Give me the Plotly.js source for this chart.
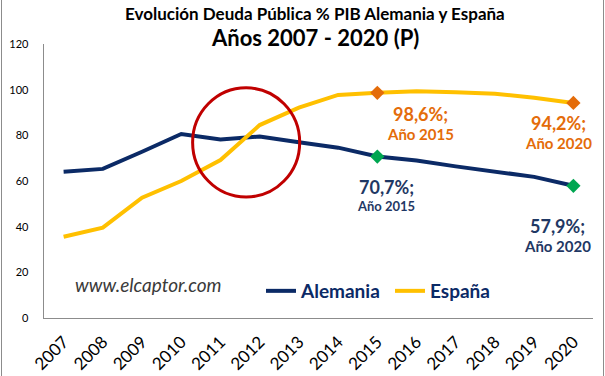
<!DOCTYPE html>
<html>
<head>
<meta charset="utf-8">
<script src="https://cdn.plot.ly/plotly-3.0.1.min.js"></script>
<style>
html,body{margin:0;padding:0;background:#fff;}
#wrap{position:relative;width:605px;height:376px;}
#chart{width:605px;height:376px;}
#frame{position:absolute;left:1px;top:-2px;width:601px;height:380px;border-left:1px solid #8c8c8c;border-right:1px solid #8c8c8c;pointer-events:none;}
</style>
</head>
<body>
<div id="wrap"><div id="chart"></div><div id="frame"></div></div>
<script>
const years = ['2007','2008','2009','2010','2011','2012','2013','2014','2015','2016','2017','2018','2019','2020'];
const alemania = [64.1, 65.3, 72.8, 80.6, 78.2, 79.5, 77.0, 74.6, 70.7, 69.0, 66.4, 64.2, 61.8, 57.9];
const espana = [35.6, 39.6, 52.7, 60.0, 69.2, 84.5, 92.1, 97.7, 98.6, 99.3, 98.9, 98.2, 96.5, 94.2];
const highlightYears = ['2015','2020'];
const titleLine1 = 'Evolución Deuda Pública % PIB Alemania y España';
const titleLine2 = 'Años 2007 - 2020 (P)';
const watermark = 'www.elcaptor.com';

const navy = '#0b2a66';
const yellow = '#ffc000';
const orange = '#e46c0a';
const green = '#00a651';
const labelNavy = '#1f3864';
const FONT = 'Lato, Carlito, Calibri, sans-serif';

const idx = yr => years.indexOf(yr);
const valAt = (arr, yr) => arr[idx(yr)];
const fmt = v => v.toFixed(1).replace('.', ',') + '%;';

const traces = [
  {x: years, y: alemania, type: 'scatter', mode: 'lines', name: 'Alemania', legend: 'legend',
   line: {color: navy, width: 4}},
  {x: years, y: espana, type: 'scatter', mode: 'lines', name: 'España', legend: 'legend2',
   line: {color: yellow, width: 4}},
  {x: highlightYears, y: highlightYears.map(y => valAt(alemania, y)), type: 'scatter', mode: 'markers',
   showlegend: false, hoverinfo: 'skip', marker: {symbol: 'diamond', size: 11, color: green}},
  {x: highlightYears, y: highlightYears.map(y => valAt(espana, y)), type: 'scatter', mode: 'markers',
   showlegend: false, hoverinfo: 'skip', marker: {symbol: 'diamond', size: 11, color: orange}}
];

const W = 605, H = 376, ml = 44, mr = 12, mt = 44, mb = 58;
const pw = W - ml - mr, ph = H - mt - mb;
const px = x => (x - ml) / pw;
const py = y => (H - mb - y) / ph;

const annotations = [
  {text: '<b>' + titleLine1 + '</b>', xref: 'paper', yref: 'paper', x: px(315), y: py(13),
   showarrow: false, font: {family: FONT, size: 17, color: '#000'}, xanchor: 'center', yanchor: 'middle'},
  {text: '<b>' + titleLine2 + '</b>', xref: 'paper', yref: 'paper', x: px(315), y: py(38),
   showarrow: false, font: {family: FONT, size: 22, color: '#000'}, xanchor: 'center', yanchor: 'middle'},
  {text: '<i>' + watermark + '</i>', xref: 'paper', yref: 'paper', x: px(148), y: py(284),
   showarrow: false, font: {family: FONT, size: 19, color: '#3a3a3a'}, xanchor: 'center', yanchor: 'middle'}
];

// value labels
const labelSpec = [
  {arr: espana, yr: '2015', color: orange, dx: 43, dy1: -21, dy2: -41, s1: 18, s2: 15},
  {arr: espana, yr: '2020', color: orange, dx: -15, dy1: -20, dy2: -40, s1: 18, s2: 15},
  {arr: alemania, yr: '2015', color: labelNavy, dx: 9, dy1: -30, dy2: -49, s1: 18, s2: 13},
  {arr: alemania, yr: '2020', color: labelNavy, dx: -16, dy1: -40, dy2: -60, s1: 18, s2: 15}
];
labelSpec.forEach(s => {
  const v = valAt(s.arr, s.yr);
  annotations.push({text: '<b>' + fmt(v) + '</b>', x: idx(s.yr), y: v, xref: 'x', yref: 'y', showarrow: false,
    xshift: s.dx, yshift: s.dy1, font: {family: FONT, size: s.s1, color: s.color}});
  annotations.push({text: '<b>Año ' + s.yr + '</b>', x: idx(s.yr), y: v, xref: 'x', yref: 'y', showarrow: false,
    xshift: s.dx, yshift: s.dy2, font: {family: FONT, size: s.s2, color: s.color}});
});

const legendBase = {orientation: 'h', xanchor: 'left', yanchor: 'middle',
  font: {family: FONT, size: 19, color: navy, weight: 'bold'}, itemwidth: 30, bgcolor: 'rgba(0,0,0,0)'};

const layout = {
  width: W, height: H,
  margin: {l: ml, r: mr, t: mt, b: mb},
  paper_bgcolor: '#fff', plot_bgcolor: '#fff',
  showlegend: true,
  legend: Object.assign({}, legendBase, {x: px(261), y: py(291)}),
  legend2: Object.assign({}, legendBase, {x: px(390), y: py(291)}),
  xaxis: {type: 'category', showgrid: false, zeroline: false, showline: true, linecolor: '#8c8c8c', linewidth: 1.3,
    ticks: '', tickangle: -45, tickfont: {family: FONT, size: 17, color: '#000'}, ticklabelstandoff: 6,
    range: [-0.5, years.length - 0.5], fixedrange: true},
  yaxis: {range: [0, 120], dtick: 20, showgrid: false, zeroline: false, showline: true, linecolor: '#8c8c8c', linewidth: 1.3,
    ticks: '', tickfont: {family: FONT, size: 11, color: '#000'}, ticklabelstandoff: 12, fixedrange: true},
  shapes: [
    {type: 'circle', xref: 'x', yref: 'y', x0: 3.29, x1: 6.02, y0: 53, y1: 100.8,
     line: {color: '#c00000', width: 3}}
  ],
  annotations: annotations
};

Plotly.newPlot('chart', traces, layout, {displayModeBar: false, staticPlot: true});
</script>
</body>
</html>
